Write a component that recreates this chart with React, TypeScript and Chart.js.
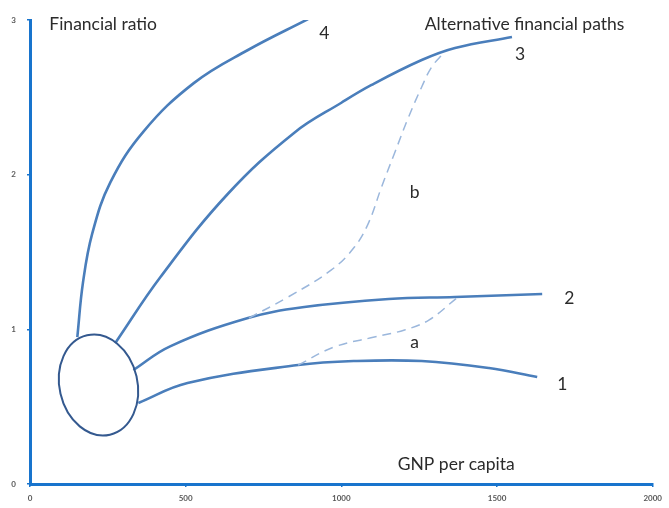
import React, { useEffect, useRef } from "react";
import { Chart, registerables } from "chart.js";

Chart.register(...registerables);

// Axis ticks
const xTickValues = [0, 500, 1000, 1500, 2000];
const yTickValues = [0, 1, 2, 3];

// Path 1
const path1X = [348, 506, 861, 1042, 1258, 1474, 1629];
const path1Y = [0.524, 0.653, 0.769, 0.795, 0.795, 0.75, 0.692];
// Path 2
const path2X = [332, 450, 700, 881, 1152, 1365, 1645];
const path2Y = [0.737, 0.89, 1.073, 1.144, 1.196, 1.209, 1.228];
// Path 3
const path3X = [274, 419, 635, 848, 1000, 1097, 1258, 1365, 1548];
const path3Y = [0.912, 1.338, 1.875, 2.27, 2.465, 2.58, 2.741, 2.819, 2.89];
// Path 4
const path4X = [152, 170, 200, 258, 365, 526, 700, 893];
const path4Y = [0.95, 1.3, 1.62, 1.95, 2.28, 2.592, 2.806, 3.006];
// Alternative (dashed) path a
const pathAX = [861, 977, 1106, 1203, 1281, 1371];
const pathAY = [0.769, 0.886, 0.95, 0.996, 1.06, 1.203];
// Alternative (dashed) path b
const pathBX = [703, 829, 968, 1042, 1087, 1129, 1171, 1216, 1258, 1290, 1329];
const pathBY = [1.073, 1.209, 1.384, 1.532, 1.687, 1.92, 2.14, 2.373, 2.567, 2.696, 2.787];

// Starting cluster (ellipse) centre, in data units
const ellipseCenterX = 220;
const ellipseCenterY = 0.64;

// Text labels
const labelTexts = ["Financial ratio", "Alternative financial paths", "GNP per capita", "4", "3", "b", "2", "a", "1"];
const labelX = [62, 1268, 1181, 945, 1574, 1235, 1732, 1235, 1710];
const labelY = [2.974, 2.974, 0.129, 2.916, 2.78, 1.888, 1.203, 0.918, 0.647];

const toPoints = (xs: number[], ys: number[]) => xs.map((x, i) => ({ x, y: ys[i] }));

const AXIS_BLUE = "#1874cd";
const LINE_BLUE = "#4a7ebb";
const DASH_BLUE = "#9bb7dc";
const ELLIPSE_BLUE = "#34598f";
const FONT = "Lato, 'Open Sans', sans-serif";

const overlayPlugin = {
  id: "overlay",
  afterDatasetsDraw(chart: any) {
    const { ctx, scales } = chart;
    const xs = scales.x;
    const ys = scales.y;
    ctx.save();
    // ellipse
    const cx = xs.getPixelForValue(ellipseCenterX);
    const cy = ys.getPixelForValue(ellipseCenterY);
    ctx.beginPath();
    ctx.ellipse(cx, cy, 39, 51, -0.227, 0, Math.PI * 2);
    ctx.strokeStyle = ELLIPSE_BLUE;
    ctx.lineWidth = 2;
    ctx.stroke();
    // texts
    ctx.fillStyle = "#2b2b2b";
    ctx.textBaseline = "middle";
    labelTexts.forEach((t, i) => {
      const px = xs.getPixelForValue(labelX[i]);
      const py = ys.getPixelForValue(labelY[i]);
      ctx.font = `17.5px ${FONT}`;
      ctx.textAlign = t.length > 1 ? "left" : "center";
      ctx.fillText(t, px, py);
    });
    ctx.restore();
  },
};

export default function App() {
  const canvasRef = useRef<HTMLCanvasElement | null>(null);

  useEffect(() => {
    if (!canvasRef.current) return;
    const solid = (xs: number[], ys: number[]) => ({
      data: toPoints(xs, ys),
      showLine: true,
      borderColor: LINE_BLUE,
      borderWidth: 2.6,
      pointRadius: 0,
      tension: 0.4,
      fill: false,
    });
    const dashed = (xs: number[], ys: number[]) => ({
      data: toPoints(xs, ys),
      showLine: true,
      borderColor: DASH_BLUE,
      borderWidth: 1.5,
      borderDash: [9, 6],
      pointRadius: 0,
      tension: 0.4,
      fill: false,
    });
    const chart = new Chart(canvasRef.current, {
      type: "scatter",
      data: {
        datasets: [
          dashed(pathAX, pathAY),
          dashed(pathBX, pathBY),
          solid(path1X, path1Y),
          solid(path2X, path2Y),
          solid(path3X, path3Y),
          solid(path4X, path4Y),
        ],
      },
      options: {
        animation: false,
        responsive: false,
        layout: { padding: { top: 20, right: 14, left: 0, bottom: 0 } },
        plugins: { legend: { display: false }, tooltip: { enabled: false } },
        scales: {
          x: {
            type: "linear",
            min: 0,
            max: 2000,
            afterBuildTicks: (s: any) => {
              s.ticks = xTickValues.map((v) => ({ value: v }));
            },
            afterFit: (s: any) => {
              s.height = 24;
            },
            grid: { display: true, drawOnChartArea: false, drawTicks: true, tickLength: 3, color: AXIS_BLUE, lineWidth: 1.5 },
            border: { display: true, color: AXIS_BLUE, width: 3 },
            ticks: {
              font: { size: 8, family: FONT, weight: "bold" },
              color: "#595959",
              padding: 7,
              maxRotation: 0,
              callback: (v: any) => String(v),
            },
          },
          y: {
            type: "linear",
            min: 0,
            max: 3,
            afterBuildTicks: (s: any) => {
              s.ticks = yTickValues.map((v) => ({ value: v }));
            },
            afterFit: (s: any) => {
              s.width = 30;
            },
            grid: { display: true, drawOnChartArea: false, drawTicks: true, tickLength: 3, color: AXIS_BLUE, lineWidth: 1.5 },
            border: { display: true, color: AXIS_BLUE, width: 3 },
            ticks: {
              font: { size: 8, family: FONT, weight: "bold" },
              color: "#595959",
              padding: 11,
              callback: (v: any) => String(v),
            },
          },
        },
      },
      plugins: [overlayPlugin],
    });
    return () => chart.destroy();
  }, []);

  return (
    <div style={{ position: "fixed", left: 0, top: 0, width: 669, height: 508, background: "#fff" }}>
      <canvas ref={canvasRef} width={669} height={508} style={{ width: 669, height: 508 }} />
    </div>
  );
}
